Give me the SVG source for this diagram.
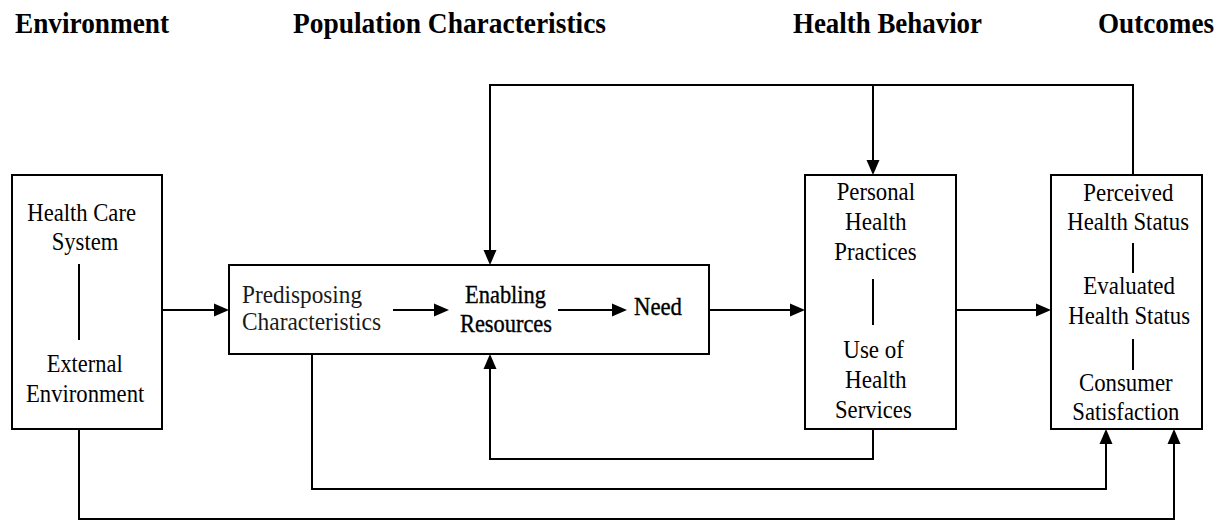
<svg xmlns="http://www.w3.org/2000/svg" width="1229" height="521" viewBox="0 0 1229 521">
  <style>
    .box { fill: #fff; stroke: #000; stroke-width: 2; }
    .arrow { fill: none; stroke: #000; stroke-width: 2; marker-end: url(#head); }
    .sep { stroke: #000; stroke-width: 2; }
    .hdr { font-family: "Liberation Serif", "Times New Roman", serif; font-weight: bold; font-size: 29px; fill: #000; }
    .lbl { font-family: "Liberation Serif", "Times New Roman", serif; font-size: 25px; fill: #000; }
    .lite { fill: #1a1a1a; }
    .dark { stroke: #000; stroke-width: 0.35; }
  </style>
  <defs>
    <marker id="head" markerUnits="userSpaceOnUse" markerWidth="16" markerHeight="14" refX="11" refY="7" orient="auto">
      <path d="M0,0.5 L15,7 L0,13.5 Z" fill="#000"/>
    </marker>
  </defs>

  <!-- column headings -->
  <g id="headings">
    <text class="hdr" x="15" y="33" textLength="154" lengthAdjust="spacingAndGlyphs">Environment</text>
    <text class="hdr" x="293" y="33" textLength="313" lengthAdjust="spacingAndGlyphs">Population Characteristics</text>
    <text class="hdr" x="793" y="33" textLength="189" lengthAdjust="spacingAndGlyphs">Health Behavior</text>
    <text class="hdr" x="1098" y="33" textLength="116" lengthAdjust="spacingAndGlyphs">Outcomes</text>
  </g>

  <!-- connectors -->
  <g id="connectors">
    <path class="arrow" d="M162,310 H225"/>
    <path class="arrow" d="M709,310 H801"/>
    <path class="arrow" d="M956,310 H1047"/>
    <path class="arrow" d="M1133,175 V85 H490 V261"/>
    <path class="arrow" d="M873,85 V171"/>
    <path class="arrow" d="M873,429 V459 H490 V358"/>
    <path class="arrow" d="M312,354 V489 H1106 V433"/>
    <path class="arrow" d="M79,429 V519 H1174 V433"/>
  </g>

  <!-- environment -->
  <g id="environment">
    <rect class="box" x="12" y="175" width="150" height="254"/>
    <text class="lbl" x="27.3" y="221" textLength="108.7" lengthAdjust="spacingAndGlyphs">Health Care</text>
    <text class="lbl" x="51.7" y="250" textLength="66.7" lengthAdjust="spacingAndGlyphs">System</text>
    <line class="sep" x1="79" y1="264" x2="79" y2="340"/>
    <text class="lbl" x="46.7" y="372" textLength="76" lengthAdjust="spacingAndGlyphs">External</text>
    <text class="lbl" x="26" y="402" textLength="118.3" lengthAdjust="spacingAndGlyphs">Environment</text>
  </g>

  <!-- population characteristics -->
  <g id="population">
    <rect class="box" x="229" y="265" width="480" height="89"/>
    <text class="lbl lite" x="242" y="303" textLength="120" lengthAdjust="spacingAndGlyphs">Predisposing</text>
    <text class="lbl lite" x="242" y="330" textLength="139" lengthAdjust="spacingAndGlyphs">Characteristics</text>
    <path class="arrow" d="M393,310 H445"/>
    <text class="lbl dark" x="465" y="303" textLength="81" lengthAdjust="spacingAndGlyphs">Enabling</text>
    <text class="lbl dark" x="460" y="332" textLength="92" lengthAdjust="spacingAndGlyphs">Resources</text>
    <path class="arrow" d="M558,310 H623"/>
    <text class="lbl dark" x="634" y="315" textLength="48" lengthAdjust="spacingAndGlyphs">Need</text>
  </g>

  <!-- health behavior -->
  <g id="behavior">
    <rect class="box" x="805" y="175" width="151" height="254"/>
    <text class="lbl" x="836.7" y="199.5" textLength="78.3" lengthAdjust="spacingAndGlyphs">Personal</text>
    <text class="lbl" x="845" y="229.5" textLength="61.7" lengthAdjust="spacingAndGlyphs">Health</text>
    <text class="lbl" x="834.3" y="260" textLength="82.3" lengthAdjust="spacingAndGlyphs">Practices</text>
    <line class="sep" x1="873" y1="279" x2="873" y2="325"/>
    <text class="lbl" x="843.3" y="357.5" textLength="60.7" lengthAdjust="spacingAndGlyphs">Use of</text>
    <text class="lbl" x="845" y="388" textLength="61.7" lengthAdjust="spacingAndGlyphs">Health</text>
    <text class="lbl" x="835" y="417.5" textLength="76.7" lengthAdjust="spacingAndGlyphs">Services</text>
  </g>

  <!-- outcomes -->
  <g id="outcomes">
    <rect class="box" x="1051" y="175" width="151" height="254"/>
    <text class="lbl" x="1083.3" y="201" textLength="90" lengthAdjust="spacingAndGlyphs">Perceived</text>
    <text class="lbl" x="1067.3" y="230" textLength="121.7" lengthAdjust="spacingAndGlyphs">Health Status</text>
    <line class="sep" x1="1133" y1="243" x2="1133" y2="273"/>
    <text class="lbl" x="1083.3" y="293.5" textLength="91.7" lengthAdjust="spacingAndGlyphs">Evaluated</text>
    <text class="lbl" x="1068.3" y="323.5" textLength="121.7" lengthAdjust="spacingAndGlyphs">Health Status</text>
    <line class="sep" x1="1133" y1="339" x2="1133" y2="370"/>
    <text class="lbl" x="1079" y="391" textLength="93.7" lengthAdjust="spacingAndGlyphs">Consumer</text>
    <text class="lbl" x="1072.3" y="420" textLength="107" lengthAdjust="spacingAndGlyphs">Satisfaction</text>
  </g>
</svg>
